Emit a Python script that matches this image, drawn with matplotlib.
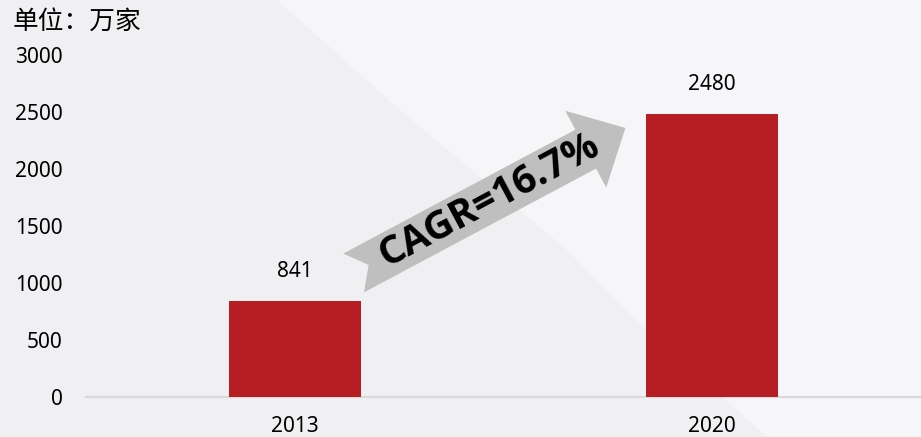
import numpy as np
import matplotlib
matplotlib.use('Agg')
import matplotlib.pyplot as plt
from matplotlib.patches import Polygon
from matplotlib.transforms import IdentityTransform

plt.rcParams['font.family'] = ['Noto Sans', 'Noto Sans CJK SC', 'DejaVu Sans']

years = ['2013', '2020']
values = [841, 2480]
cagr_text = 'CAGR=16.7%'
unit_text = '单位：万家'
yticks = [0, 500, 1000, 1500, 2000, 2500, 3000]

W, H = 921, 437
fig = plt.figure(figsize=(W / 100, H / 100), dpi=100)
fig.patch.set_facecolor('#f0f0f2')

# lighter diagonal region of the background (image pixel coords -> figure fraction)
bg = [(277, 0), (400, 110), (567, 250), (633, 317), (767, 437), (921, 437), (921, 0)]
fig.patches.append(Polygon([(x / W, 1 - y / H) for x, y in bg], closed=True,
                           transform=fig.transFigure, facecolor='#f6f6f8',
                           edgecolor='none', zorder=-5))

ax = fig.add_axes([86 / W, 1 - 397 / H, 1 - 86 / W, (397 - 55) / H])
ax.set_facecolor('none')
ax.set_zorder(2)

x = np.arange(len(years))
ax.bar(x, values, width=0.315, color='#b71e23', zorder=3)
for xi, v in zip(x, values):
    ax.text(xi, v + 170, str(v), ha='center', va='bottom', fontsize=15, color='#000000')

ax.set_xlim(-0.5, 1.5)
ax.set_ylim(0, 3000)
ax.set_yticks(yticks)
ax.set_xticks(x)
ax.set_xticklabels(years)
ax.tick_params(axis='y', length=0, pad=17, labelsize=15)
ax.tick_params(axis='x', length=0, pad=14, labelsize=15)
for s in ['top', 'right', 'left']:
    ax.spines[s].set_visible(False)
ax.spines['bottom'].set_color('#d9d9d9')
ax.spines['bottom'].set_linewidth(1.6)

fig.text(13 / W, 1 - 22 / H, unit_text, ha='left', va='center', fontsize=18.5, color='#000000')

# CAGR arrow, tail centre and tip in data coords, drawn as a notched block arrow
fig.canvas.draw()
tail = ax.transData.transform((0.141, 1088))
tip = ax.transData.transform((0.792, 2360))
d = tip - tail
L = np.hypot(*d)
u = d / L
n = np.array([-u[1], u[0]])
half_w, head_half, head_len, notch = 22, 43.5, 45, 17
base = L - head_len
pts = [tail + half_w * n,
       tail + base * u + half_w * n,
       tail + base * u + head_half * n,
       tip,
       tail + base * u - head_half * n,
       tail + base * u - half_w * n,
       tail - half_w * n,
       tail + notch * u]
ax.add_patch(Polygon(pts, closed=True, transform=IdentityTransform(),
                     facecolor='#bfbfbf', edgecolor='none', clip_on=False, zorder=4))
angle = np.degrees(np.arctan2(d[1], d[0]))
mid = tail + 154 * u
ax.text(mid[0], mid[1], cagr_text, transform=IdentityTransform(), rotation=angle,
        rotation_mode='anchor', ha='center', va='center', fontsize=28.5,
        family=['Open Sans', 'DejaVu Sans'], fontweight='bold', color='#000000', zorder=5)

fig.savefig('out.png', dpi=100, facecolor=fig.get_facecolor())
